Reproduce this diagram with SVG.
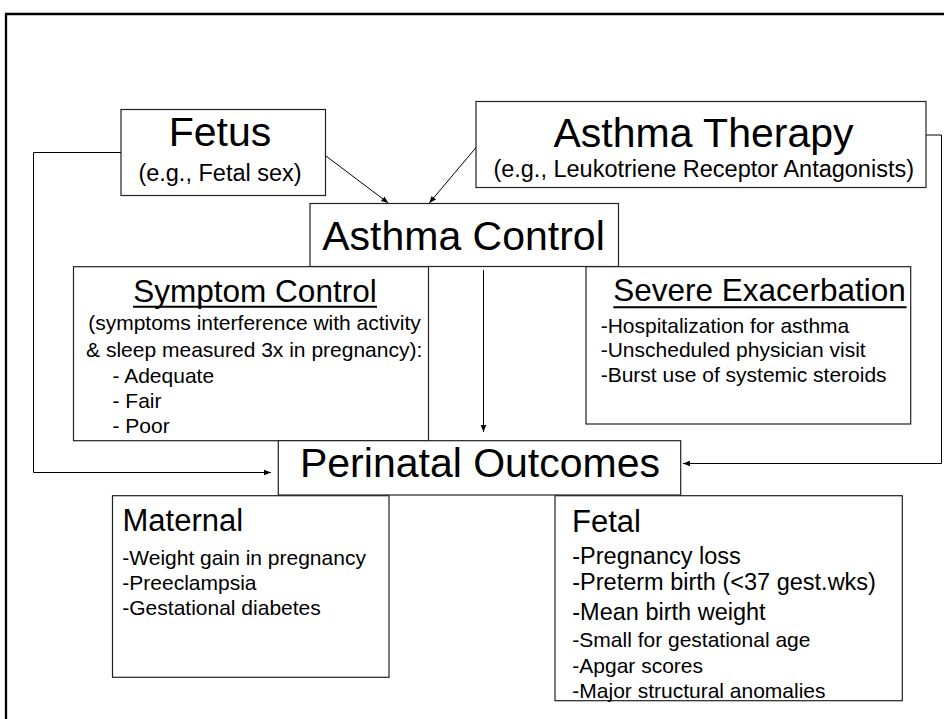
<svg xmlns="http://www.w3.org/2000/svg" width="944" height="719" viewBox="0 0 944 719">
<style>
text{font-family:"Liberation Sans",Arial,sans-serif;fill:#000}
.box{fill:#fff;stroke:#222;stroke-width:1.2}
.big{font-size:41px}
.sub{font-size:23.5px}
.ttl{font-size:31.5px}
.b21{font-size:21px}
.b23{font-size:23.5px}
.mid{text-anchor:middle}
.conn{fill:none;stroke:#000;stroke-width:1}
.ul{stroke:#000;stroke-width:2}
</style>
<defs>
<marker id="ah" viewBox="0 0 10 10" refX="10" refY="5" markerWidth="7" markerHeight="7" markerUnits="userSpaceOnUse" orient="auto">
<path d="M0,1 L10,5 L0,9 z" fill="#000"/>
</marker>
</defs>
<rect width="944" height="719" fill="#fff"/>
<path d="M6,719 V14 H944" fill="none" stroke="#000" stroke-width="2.3"/>

<g id="connectors">
<path class="conn" d="M121,152.5 H33.5 V472.5 H271" marker-end="url(#ah)"/>
<path class="conn" d="M926,135 H941.5 V463.5 H683" marker-end="url(#ah)"/>
<path class="conn" d="M326,156 L388.3,203" marker-end="url(#ah)"/>
<path class="conn" d="M476.5,147 L429.3,203" marker-end="url(#ah)"/>
<path class="conn" d="M483.5,270 V432" marker-end="url(#ah)"/>
</g>

<g id="fetus">
<rect class="box" x="121" y="109.5" width="204.5" height="86"/>
<text class="big mid" x="220" y="146">Fetus</text>
<text class="sub mid" x="220" y="181">(e.g., Fetal sex)</text>
</g>

<g id="therapy">
<rect class="box" x="476" y="101.5" width="450" height="86"/>
<text class="big mid" x="703.5" y="146.5">Asthma Therapy</text>
<text class="sub mid" x="703.7" y="177">(e.g., Leukotriene Receptor Antagonists)</text>
</g>

<g id="control">
<rect class="box" x="310" y="203.5" width="308.5" height="63"/>
<text class="big mid" x="463.5" y="250">Asthma Control</text>
</g>

<g id="symptom">
<rect class="box" x="73.5" y="266.7" width="355" height="174"/>
<text class="ttl mid" x="255" y="301.5">Symptom Control</text>
<line class="ul" x1="133" y1="306.7" x2="377" y2="306.7"/>
<text class="b21 mid" x="254.5" y="330">(symptoms interference with activity</text>
<text class="b21 mid" x="254.2" y="356.5">&amp; sleep measured 3x in pregnancy):</text>
<text class="b21" x="112.5" y="383.3">- Adequate</text>
<text class="b21" x="112.5" y="408.3">- Fair</text>
<text class="b21" x="112.5" y="433.3">- Poor</text>
</g>

<g id="severe">
<rect class="box" x="586" y="266.7" width="324.7" height="157.3"/>
<text class="ttl mid" x="759.5" y="300.7">Severe Exacerbation</text>
<line class="ul" x1="613.3" y1="307.3" x2="906.5" y2="307.3"/>
<text class="b21" x="600.7" y="333.3">-Hospitalization for asthma</text>
<text class="b21" x="600.7" y="357">-Unscheduled physician visit</text>
<text class="b21" x="600.7" y="381.7">-Burst use of systemic steroids</text>
</g>

<g id="perinatal">
<rect class="box" x="278.3" y="440.7" width="402.4" height="54.3"/>
<text class="big mid" x="480" y="476.5">Perinatal Outcomes</text>
</g>

<g id="maternal">
<rect class="box" x="112.5" y="495.7" width="276.5" height="181.6"/>
<text class="ttl" x="122.5" y="530.7" style="font-size:31px">Maternal</text>
<text class="b21" x="122.3" y="565">-Weight gain in pregnancy</text>
<text class="b21" x="122.3" y="589.5">-Preeclampsia</text>
<text class="b21" x="122.3" y="615">-Gestational diabetes</text>
</g>

<g id="fetal">
<rect class="box" x="555" y="495.7" width="347.3" height="205"/>
<text class="ttl" x="572" y="531.5" style="font-size:31px">Fetal</text>
<text class="b23" x="572.3" y="564">-Pregnancy loss</text>
<text class="b23" x="572.3" y="590">-Preterm birth (&lt;37 gest.wks)</text>
<text class="b23" x="572.3" y="620">-Mean birth weight</text>
<text class="b21" x="572.3" y="646.7">-Small for gestational age</text>
<text class="b21" x="572.3" y="672.7">-Apgar scores</text>
<text class="b21" x="572.3" y="698.3">-Major structural anomalies</text>
</g>
</svg>
